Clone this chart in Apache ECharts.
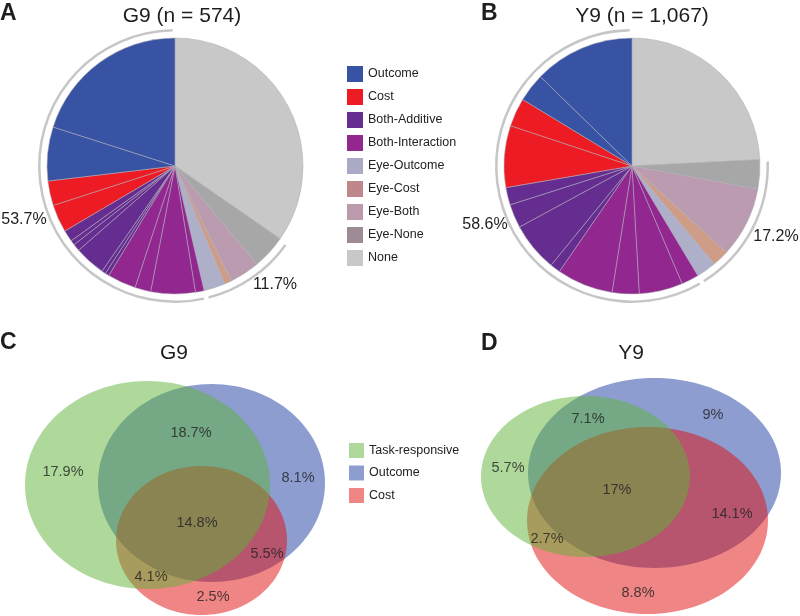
<!DOCTYPE html>
<html>
<head>
<meta charset="utf-8">
<script src="https://cdn.jsdelivr.net/npm/echarts@6/dist/echarts.min.js"></script>
<style>html,body{margin:0;padding:0;background:#fff}#chart{width:800px;height:616px}</style>
</head>
<body>
<div id="chart"></div>
<script>
// ---------- DATA ----------
// Pie categories in clockwise order starting at 12 o'clock
const pieOrder = ['None', 'Eye-None', 'Eye-Both', 'Eye-Cost', 'Eye-Outcome', 'Both-Interaction', 'Both-Additive', 'Cost', 'Outcome'];
// Legend order
const legendCategories = ['Outcome', 'Cost', 'Both-Additive', 'Both-Interaction', 'Eye-Outcome', 'Eye-Cost', 'Eye-Both', 'Eye-None', 'None'];
// Sub-slice percentages for each category (same order as pieOrder)
const g9Parts = [[34.6], [4.3], [3.8], [0.9], [2.7], [1.1, 5.6, 2.0, 3.6], [0.5, 0.5, 3.9, 0.9, 0.6, 1.45], [3.5, 3.1], [6.8, 20.05]];
const y9Parts = [[24.2], [3.7], [8.9], [2.1], [2.5], [2.2, 5.5, 3.4, 7.1], [1.3, 6.2, 3.0, 2.2], [7.8, 3.6], [3.6, 12.7]];
// Group arcs: [Eye categories, Outcome+Cost+Both]
const g9Groups = [11.7, 53.7];
const y9Groups = [17.2, 58.6];
const pieTitles = ['G9 (n = 574)', 'Y9 (n = 1,067)'];

// Venn
const vennSets = ['Task-responsive', 'Outcome', 'Cost'];
// ellipse [cx, cy, rx, ry] per set
const g9Ellipses = { 'Task-responsive': [147.5, 115, 122.5, 104], 'Outcome': [211.5, 113, 113.5, 99], 'Cost': [201.5, 170.5, 85.5, 74.5] };
const y9Ellipses = { 'Task-responsive': [115.5, 106.5, 104.5, 80.5], 'Outcome': [184.5, 103, 126.5, 95], 'Cost': [177.5, 150.5, 120.5, 93.5] };
const g9RegionValues = [17.9, 18.7, 8.1, 14.8, 5.5, 4.1, 2.5];
const y9RegionValues = [5.7, 7.1, 9, 17, 14.1, 2.7, 8.8];
const vennTitles = ['G9', 'Y9'];

// ---------- LAYOUT / STYLE ----------
const FONT = '"Liberation Sans", Arial, Helvetica, sans-serif';
const pieColors = {
  'Outcome': '#3953a4', 'Cost': '#ed1c24', 'Both-Additive': '#662d91', 'Both-Interaction': '#92278f',
  'Eye-Outcome': '#aeafc9', 'Eye-Cost': '#cf9c88', 'Eye-Both': '#bb9bb0', 'Eye-None': '#a7a7a7', 'None': '#c8c8c8'
};
const legendColors = {
  'Outcome': '#3953a4', 'Cost': '#ed1c24', 'Both-Additive': '#662d91', 'Both-Interaction': '#92278f',
  'Eye-Outcome': '#aaaac6', 'Eye-Cost': '#bf868b', 'Eye-Both': '#bc9aae', 'Eye-None': '#9d8b96', 'None': '#c8c8c8'
};
const vennColors = { 'Task-responsive': '#5db337', 'Outcome': '#1b3ba1', 'Cost': '#e10b0b' };
const vennLegendColors = { 'Task-responsive': '#aed99b', 'Outcome': '#8d9dd0', 'Cost': '#f08585' };
const g9LabelPos = [[63, 102], [191, 63], [298, 108], [197, 153], [267, 184], [151, 207], [213, 227]];
const y9LabelPos = [[38, 98], [118, 49], [243, 45], [147, 120], [262, 144], [77, 169], [168, 223]];

function pieData(parts) {
  const out = [];
  pieOrder.forEach(function (cat, i) {
    parts[i].forEach(function (v) {
      out.push({ name: cat, value: v, itemStyle: { color: pieColors[cat] } });
    });
  });
  return out;
}
function ringData(groups) {
  const rest = 100 - groups[0] - groups[1];
  return [
    { name: 'rest', value: rest, itemStyle: { color: 'rgba(0,0,0,0)' } },
    { name: 'grpEye', value: groups[0], itemStyle: { color: '#c6c6c6' } },
    { name: 'grpMain', value: groups[1], itemStyle: { color: '#c6c6c6' } }
  ];
}
function pieSeries(parts, center) {
  return {
    type: 'pie', center: center, radius: [0, 128], startAngle: 90, clockwise: true,
    data: pieData(parts), label: { show: false }, labelLine: { show: false },
    itemStyle: { borderColor: 'rgba(175,175,185,0.75)', borderWidth: 0.7 },
    emphasis: { disabled: true }, silent: true, animation: false, avoidLabelOverlap: false
  };
}
function ringSeries(groups, center) {
  return {
    type: 'pie', center: center, radius: [134.5, 137], startAngle: 90, clockwise: true, padAngle: 2,
    data: ringData(groups), label: { show: false }, labelLine: { show: false },
    emphasis: { disabled: true }, silent: true, animation: false
  };
}
function renderEllipse(params, api) {
  const c = api.coord([api.value(0), api.value(1)]);
  const s = api.size([api.value(2), api.value(3)]);
  return {
    type: 'ellipse',
    shape: { cx: c[0], cy: c[1], rx: s[0], ry: s[1] },
    style: { fill: api.visual('color'), opacity: 0.5 }
  };
}
function vennSeries(ellipses, gridIndex) {
  const order = ['Outcome', 'Cost', 'Task-responsive'];
  return order.map(function (set) {
    return {
      type: 'custom', name: set + '#v', xAxisIndex: gridIndex, yAxisIndex: gridIndex,
      renderItem: renderEllipse, data: [ellipses[set]],
      itemStyle: { color: vennColors[set] }, silent: true, animation: false
    };
  });
}
function vennLabelSeries(values, pos, gridIndex) {
  return {
    type: 'scatter', xAxisIndex: gridIndex, yAxisIndex: gridIndex, symbolSize: 1, z: 10,
    itemStyle: { color: 'rgba(0,0,0,0)' }, silent: true, animation: false,
    data: values.map(function (v, i) { return [pos[i][0], pos[i][1], v]; }),
    label: {
      show: true, position: 'inside', fontFamily: FONT, fontSize: 14.5, color: '#222',
      formatter: function (p) { return p.value[2] + '%'; }
    }
  };
}
function txt(text, x, y, size, bold, align) {
  return {
    type: 'text', x: x, y: y, silent: true,
    style: { text: text, fontFamily: FONT, fontSize: size, fontWeight: bold ? 'bold' : 'normal', fill: '#1e1e1e', align: align || 'center', verticalAlign: 'middle' }
  };
}

const chart = echarts.init(document.getElementById('chart'), null, { renderer: 'canvas' });
const option = {
  backgroundColor: '#fff',
  animation: false,
  grid: [
    { left: 0, top: 370, width: 340, height: 246 },
    { left: 470, top: 370, width: 330, height: 246 }
  ],
  xAxis: [
    { type: 'value', gridIndex: 0, min: 0, max: 340, show: false },
    { type: 'value', gridIndex: 1, min: 0, max: 330, show: false }
  ],
  yAxis: [
    { type: 'value', gridIndex: 0, min: 0, max: 246, inverse: true, show: false },
    { type: 'value', gridIndex: 1, min: 0, max: 246, inverse: true, show: false }
  ],
  legend: [
    {
      orient: 'vertical', left: 342, top: 61, itemWidth: 16, itemHeight: 16, itemGap: 7,
      selectedMode: false, icon: 'rect',
      itemStyle: { borderWidth: 0 },
      textStyle: { fontFamily: FONT, fontSize: 12.5, color: '#222' },
      data: legendCategories.map(function (n) { return { name: n, itemStyle: { color: legendColors[n], borderWidth: 0 } }; })
    },
    {
      orient: 'vertical', left: 344, top: 438, itemWidth: 15, itemHeight: 15, itemGap: 7.5,
      selectedMode: false, icon: 'rect',
      itemStyle: { borderWidth: 0 },
      textStyle: { fontFamily: FONT, fontSize: 12.5, color: '#222' },
      formatter: function (n) { return n.replace('#v', ''); },
      data: vennSets.map(function (n) { return { name: n + '#v', itemStyle: { color: vennLegendColors[n], opacity: 1, borderWidth: 0 } }; })
    }
  ],
  series: [
    pieSeries(g9Parts, [175, 166]),
    ringSeries(g9Groups, [175, 166]),
    pieSeries(y9Parts, [632, 166]),
    ringSeries(y9Groups, [632, 166])
  ].concat(vennSeries(g9Ellipses, 0), vennSeries(y9Ellipses, 1), [
    vennLabelSeries(g9RegionValues, g9LabelPos, 0),
    vennLabelSeries(y9RegionValues, y9LabelPos, 1)
  ]),
  graphic: [
    txt('A', 0, 14, 23, true, 'left'),
    txt('B', 481, 14, 23, true, 'left'),
    txt('C', 0, 343, 23, true, 'left'),
    txt('D', 481, 344, 23, true, 'left'),
    txt(pieTitles[0], 182, 16, 21),
    txt(pieTitles[1], 642, 16, 21),
    txt(vennTitles[0], 174, 353, 21),
    txt(vennTitles[1], 631, 353, 21),
    txt(g9Groups[1] + '%', 24, 220, 16),
    txt(g9Groups[0] + '%', 275, 285, 16),
    txt(y9Groups[1] + '%', 485, 225, 16),
    txt(y9Groups[0] + '%', 776, 237, 16)
  ]
};
chart.setOption(option);
</script>
</body>
</html>
